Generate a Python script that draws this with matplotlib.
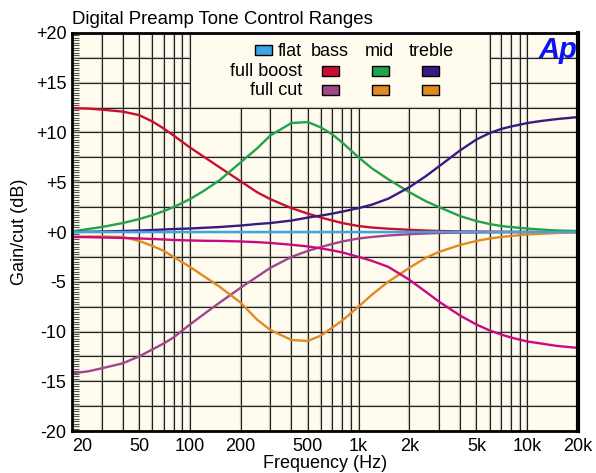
import numpy as np
import matplotlib
matplotlib.use('Agg')
import matplotlib.pyplot as plt
from matplotlib.ticker import MultipleLocator, NullLocator
from matplotlib.patches import Rectangle

plt.rcParams['font.family'] = ['Liberation Sans', 'DejaVu Sans']

# ---------------- data ----------------
freq = [20, 25, 30, 40, 50, 60, 70, 80, 100, 120, 150, 200, 250, 300, 400, 500,
        600, 700, 800, 1000, 1200, 1500, 2000, 2500, 3000, 4000, 5000, 6000,
        7000, 8000, 10000, 12000, 15000, 20000]
flat = [0.0] * len(freq)
bass_boost = [12.45, 12.4, 12.3, 12.1, 11.75, 11.1, 10.4, 9.7, 8.5, 7.6, 6.5, 5.1,
              4.0, 3.3, 2.4, 1.85, 1.45, 1.15, 0.9, 0.6, 0.45, 0.33, 0.22, 0.15,
              0.1, 0.06, 0.04, 0.03, 0.02, 0.01, 0.0, 0.0, 0.0, 0.0]
bass_cut = [-14.2, -14.0, -13.7, -13.2, -12.5, -11.8, -11.2, -10.6, -9.3, -8.3,
            -7.1, -5.6, -4.5, -3.6, -2.5, -1.9, -1.5, -1.2, -0.95, -0.65, -0.5,
            -0.35, -0.22, -0.15, -0.1, -0.06, -0.04, -0.03, -0.02, -0.01, 0.0,
            0.0, 0.0, 0.0]
mid_boost = [0.05, 0.3, 0.5, 0.9, 1.3, 1.7, 2.1, 2.5, 3.3, 4.1, 5.2, 7.0, 8.4, 9.7,
             10.95, 11.05, 10.5, 9.8, 9.0, 7.5, 6.4, 5.3, 4.0, 3.1, 2.5, 1.6, 1.1,
             0.8, 0.6, 0.5, 0.35, 0.25, 0.15, 0.1]
mid_cut = [-0.5, -0.45, -0.45, -0.5, -0.9, -1.4, -1.9, -2.5, -3.5, -4.4, -5.5, -7.1,
           -8.8, -9.85, -10.85, -10.95, -10.4, -9.6, -8.9, -7.5, -6.3, -5.0, -3.6,
           -2.6, -2.0, -1.3, -0.9, -0.65, -0.5, -0.4, -0.25, -0.18, -0.1, -0.05]
treble_boost = [0.0, 0.02, 0.05, 0.1, 0.15, 0.2, 0.25, 0.3, 0.35, 0.42, 0.5, 0.65,
                0.8, 0.9, 1.15, 1.45, 1.65, 1.85, 2.05, 2.4, 2.75, 3.35, 4.5, 5.6,
                6.6, 8.2, 9.3, 9.95, 10.35, 10.6, 10.95, 11.15, 11.35, 11.55]
treble_cut = [-0.5, -0.52, -0.55, -0.6, -0.65, -0.7, -0.75, -0.8, -0.85, -0.88,
              -0.9, -0.95, -1.02, -1.1, -1.28, -1.45, -1.65, -1.85, -2.05, -2.5,
              -2.9, -3.5, -4.8, -6.0, -7.0, -8.4, -9.3, -9.9, -10.3, -10.6, -11.0,
              -11.2, -11.45, -11.65]

xtick_vals = [20, 50, 100, 200, 500, 1000, 2000, 5000, 10000, 20000]
xtick_labels = ['20', '50', '100', '200', '500', '1k', '2k', '5k', '10k', '20k']
ytick_vals = [-20, -15, -10, -5, 0, 5, 10, 15, 20]
ytick_labels = ['-20', '-15', '-10', '-5', '+0', '+5', '+10', '+15', '+20']

# colours
c_flat = '#3aa6e6'
c_bass_boost = '#c8102e'
c_bass_cut = '#a0468a'
c_mid_boost = '#22a24a'
c_mid_cut = '#e08a22'
c_treble_boost = '#3a1a82'
c_treble_cut = '#cc0a80'
c_treble_cut_legend = '#e08a22'

W, H = 596, 473
fig = plt.figure(figsize=(W / 100, H / 100), dpi=100)
fig.patch.set_facecolor('white')
ax = fig.add_axes([72 / W, 1 - 431 / H, 506 / W, 398 / H])
ax.set_facecolor('#fffcef')
ax.set_xscale('log')
ax.set_xlim(20, 20000)
ax.set_ylim(-20, 20)

# ---------------- grid (manual, hidden behind legend box) ----------------
grid_x = [30, 40, 50, 60, 70, 80, 90, 100, 200, 300, 400, 500, 600, 700, 800, 900,
          1000, 2000, 3000, 4000, 5000, 6000, 7000, 8000, 9000, 10000]
grid_y = list(np.arange(-17.5, 20, 2.5))
lx0, lx1, ly0 = 100, 6000, 12.5


def gline(xs, ys):
    ax.plot(xs, ys, color='#cfcdc2', lw=1.7, zorder=1, solid_capstyle='butt')
    ax.plot(xs, ys, color='#202020', lw=0.8, zorder=1.1, solid_capstyle='butt')


for f in grid_x:
    if lx0 < f < lx1:
        gline([f, f], [-20, ly0])
    else:
        gline([f, f], [-20, 20])
for y in grid_y:
    if y > ly0:
        gline([20, lx0], [y, y])
        gline([lx1, 20000], [y, y])
    else:
        gline([20, 20000], [y, y])

# ---------------- curves ----------------
lw = 1.7
ax.plot(freq, bass_boost, color=c_bass_boost, lw=lw, zorder=3)
ax.plot(freq, bass_cut, color=c_bass_cut, lw=lw, zorder=3)
ax.plot(freq, mid_boost, color=c_mid_boost, lw=lw, zorder=3)
ax.plot(freq, mid_cut, color=c_mid_cut, lw=lw, zorder=3)
ax.plot(freq, treble_boost, color=c_treble_boost, lw=lw, zorder=3)
ax.plot(freq, treble_cut, color=c_treble_cut, lw=lw, zorder=3)
ax.plot(freq, flat, color=c_flat, lw=lw, zorder=3.5)

# ---------------- ticks ----------------
ax.set_xticks(xtick_vals)
ax.set_xticklabels(xtick_labels, fontsize=13)
ax.xaxis.set_minor_locator(NullLocator())
ax.tick_params(axis='x', which='both', length=0, pad=5)
ax.get_xticklabels()[0].set_horizontalalignment('left')

ax.set_yticks(ytick_vals)
ax.set_yticklabels(ytick_labels, fontsize=13)
ax.yaxis.set_minor_locator(MultipleLocator(0.25))
ax.tick_params(axis='y', which='both', direction='in', length=5, width=0.8,
               color='#555555', pad=4, right=False)

for side, w in [('left', 2), ('bottom', 2), ('top', 2), ('right', 3)]:
    ax.spines[side].set_linewidth(w)
    ax.spines[side].set_color('black')
    ax.spines[side].set_zorder(5)


def fx(x):
    return x / W


def fy(y):
    return 1 - y / H


# ---------------- texts ----------------
fig.text(fx(72), fy(24), 'Digital Preamp Tone Control Ranges', fontsize=13.4,
         ha='left', va='baseline')
fig.text(fx(20), fy(232), 'Gain/cut (dB)', fontsize=13, rotation=90,
         ha='center', va='center')
fig.text(fx(325), fy(463), 'Frequency (Hz)', fontsize=13, ha='center', va='center')
fig.text(fx(539), fy(58), 'Ap', fontsize=21, color='#0a14f0', fontweight='bold',
         fontstyle='italic', ha='left', va='baseline')

# ---------------- legend ----------------
def patch(x0, x1, y0, y1, color):
    fig.add_artist(Rectangle((fx(x0), fy(y1)), fx(x1) - fx(x0), fy(y0) - fy(y1),
                             transform=fig.transFigure, facecolor=color,
                             edgecolor='black', lw=1.0, zorder=6))


patch(255, 272, 45, 55, c_flat)
fig.text(fx(278), fy(56), 'flat', fontsize=13, ha='left', va='baseline')
fig.text(fx(330), fy(56), 'bass', fontsize=13, ha='center', va='baseline')
fig.text(fx(379), fy(56), 'mid', fontsize=13, ha='center', va='baseline')
fig.text(fx(431), fy(56), 'treble', fontsize=13, ha='center', va='baseline')
fig.text(fx(302), fy(76), 'full boost', fontsize=13, ha='right', va='baseline')
fig.text(fx(302), fy(95), 'full cut', fontsize=13, ha='right', va='baseline')
patch(322, 339, 66, 76, c_bass_boost)
patch(372, 389, 66, 76, c_mid_boost)
patch(422, 439, 66, 76, c_treble_boost)
patch(322, 339, 85, 95, c_bass_cut)
patch(372, 389, 85, 95, c_mid_cut)
patch(422, 439, 85, 95, c_treble_cut_legend)

fig.savefig('out.png', dpi=100)
